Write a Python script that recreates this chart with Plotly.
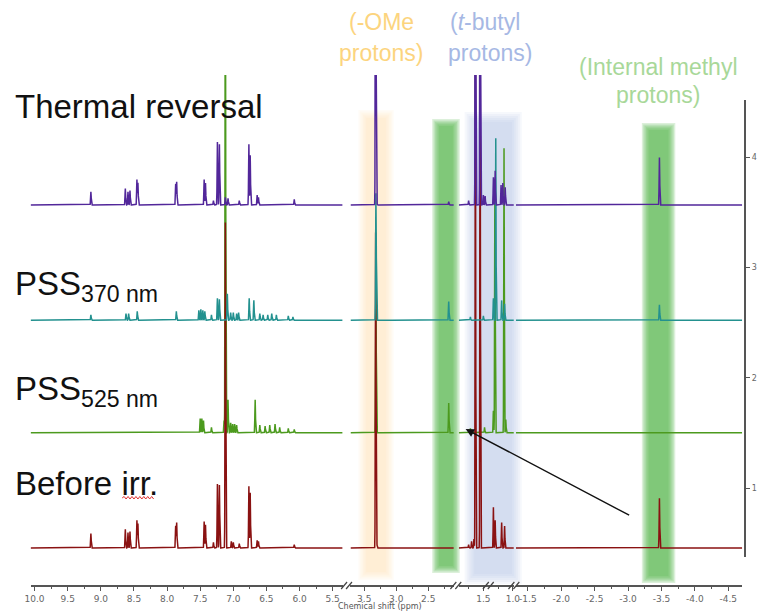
import numpy as np
import plotly.graph_objects as go

W, H = 763, 613

# ---- broken chemical-shift axis: visible windows (ppm, high -> low) ----
seg_ranges = [(10.06, 5.35), (3.715, 2.10), (1.917, 0.983), (-1.32, -4.71)]
seg_ticks = [
    [10.0, 9.5, 9.0, 8.5, 8.0, 7.5, 7.0, 6.5, 6.0, 5.5],
    [3.5, 3.0, 2.5],
    [1.5, 1.0],
    [-1.5, -2.0, -2.5, -3.0, -3.5, -4.0, -4.5],
]
stack_ticks = [1, 2, 3, 4]

# ---- peak lists (ppm, intensity in stack units) ----
before_ppm = [9.15, 8.63, 8.59, 8.56, 8.455, 8.44, 7.87, 7.855, 7.44, 7.42, 7.30,
              7.24, 7.21, 7.12, 7.03, 7.00, 6.91, 6.765, 6.745, 6.64, 6.62, 6.08,
              3.322, 3.31,
              1.75, 1.70, 1.66, 1.635, 1.555, 1.33, 1.30, 1.19, 1.14,
              -3.47]
before_height = [0.13, 0.17, 0.14, 0.15, 0.25, 0.22, 0.20, 0.23, 0.24, 0.21, 0.05,
                 0.58, 0.57, 2.95, 0.06, 0.05, 0.04, 0.56, 0.50, 0.07, 0.06, 0.03,
                 2.85, 0.30,
                 0.03, 0.06, 0.08, 5.0, 5.0, 0.37, 0.25, 0.23, 0.20,
                 0.45]

pss525_ppm = [7.50, 7.475, 7.45, 7.33, 7.14, 7.12, 7.08, 7.04, 7.01, 6.98, 6.95,
              6.67, 6.60, 6.52, 6.45, 6.37, 6.30, 6.17, 6.08,
              3.318, 3.31, 2.18,
              1.72, 1.48, 1.33, 1.305, 1.15, 1.12]
pss525_height = [0.13, 0.13, 0.11, 0.05, 0.11, 5.0, 0.30, 0.09, 0.08, 0.08, 0.07,
                 0.30, 0.07, 0.06, 0.07, 0.08, 0.05, 0.04, 0.03,
                 1.32, 0.20, 0.27,
                 0.04, 0.05, 0.20, 2.30, 2.58, 0.12]

pss370_ppm = [9.15, 8.62, 8.58, 8.45, 7.86, 7.52, 7.49, 7.46, 7.43, 7.33, 7.24, 7.21,
              7.09, 7.04, 7.00, 6.95, 6.92, 6.76, 6.69, 6.60, 6.55, 6.48, 6.42, 6.35,
              6.17, 6.10,
              3.318, 3.31, 2.18,
              1.72, 1.50, 1.33, 1.29, 1.19, 1.14,
              -3.47]
pss370_height = [0.05, 0.06, 0.06, 0.08, 0.08, 0.09, 0.10, 0.09, 0.08, 0.05, 0.20, 0.19,
                 0.24, 0.07, 0.07, 0.06, 0.07, 0.20, 0.18, 0.06, 0.05, 0.05, 0.06, 0.05,
                 0.04, 0.03,
                 1.10, 0.25, 0.17,
                 0.03, 0.04, 0.20, 1.65, 0.18, 0.15,
                 0.14]

thermal_ppm = [9.15, 8.63, 8.59, 8.56, 8.455, 8.44, 7.87, 7.855, 7.44, 7.42, 7.30,
               7.24, 7.21, 7.12, 7.08, 6.91, 6.765, 6.745, 6.64, 6.62, 6.08,
               3.322, 3.31, 2.18,
               1.75, 1.50, 1.47, 1.635, 1.555, 1.33, 1.30, 1.20, 1.17, 1.13,
               -3.47]
thermal_height = [0.12, 0.15, 0.12, 0.13, 0.23, 0.20, 0.19, 0.21, 0.23, 0.20, 0.04,
                  0.57, 0.55, 0.07, 0.06, 0.04, 0.55, 0.45, 0.09, 0.07, 0.05,
                  5.0, 0.39, 0.03,
                  0.04, 0.09, 0.08, 5.0, 5.0, 0.25, 0.31, 0.18, 0.20, 0.16,
                  0.43]

# stacking offsets of each spectrum
offset_before, offset_525, offset_370, offset_thermal = 0.456, 1.50, 2.52, 3.565

# drawing order: PSS525 underneath, thermal reversal on top
spectra = [
    (pss525_ppm, pss525_height, offset_525, "#4c9a1e"),
    (before_ppm, before_height, offset_before, "#8a1212"),
    (pss370_ppm, pss370_height, offset_370, "#23918f"),
    (thermal_ppm, thermal_height, offset_thermal, "#52279a"),
]

SIGMA = 0.0045   # line width of each resonance (ppm)
STEP = 0.001


def fx(px):
    return px / W


def fy(py):
    return 1 - py / H


seg_px = [(25, 342), (350, 455), (460, 516), (518, 748)]
x_names = ["x", "x2", "x3", "x4"]

fig = go.Figure()

for ppm, hgt, off, color in spectra:
    ppm = np.asarray(ppm)
    hgt = np.asarray(hgt)
    for k, (hi, lo) in enumerate(seg_ranges):
        grid = np.arange(hi, lo, -STEP)
        y = np.full_like(grid, off)
        sel = (ppm <= hi + 0.05) & (ppm >= lo - 0.05)
        for p, h in zip(ppm[sel], hgt[sel]):
            y += h * np.exp(-0.5 * ((grid - p) / SIGMA) ** 2)
        fig.add_trace(go.Scatter(
            x=grid, y=y, xaxis=x_names[k], yaxis="y", mode="lines",
            line=dict(color=color, width=1.5), hoverinfo="skip", showlegend=False))

# trace that carries the right-hand intensity axis
fig.add_trace(go.Scatter(x=[None], y=[None], xaxis="x4", yaxis="y2",
                         mode="lines", showlegend=False, hoverinfo="skip"))

layout = dict(
    width=W, height=H,
    margin=dict(l=0, r=0, t=0, b=0),
    paper_bgcolor="white",
    plot_bgcolor="rgba(0,0,0,0)",
    showlegend=False,
    yaxis=dict(domain=[fy(560), fy(75)], range=[0.347, 4.743], visible=False,
               fixedrange=True),
    yaxis2=dict(domain=[fy(557), fy(100)], range=[0.375, 4.517], anchor="free",
                position=fx(751), side="right", showline=True, linecolor="#555",
                linewidth=2, ticks="outside", ticklen=4, tickcolor="#555",
                tickvals=stack_ticks, ticktext=[str(t) for t in stack_ticks],
                tickfont=dict(family="DejaVu Sans", size=8, color="#666"),
                showgrid=False, zeroline=False),
)

for k, ((hi, lo), (a, b)) in enumerate(zip(seg_ranges, seg_px)):
    ticks = seg_ticks[k]
    minor = [t - 0.25 for t in ticks] + [ticks[0] + 0.25]
    minor = [m for m in minor if lo <= m <= hi]
    key = "xaxis" if k == 0 else f"xaxis{k + 1}"
    layout[key] = dict(
        domain=[fx(a), fx(b)], range=[hi, lo], anchor="free", position=fy(586),
        showline=True, linecolor="#555", linewidth=1.5,
        ticks="outside", ticklen=4, tickcolor="#555", tickwidth=1,
        tickvals=ticks, ticktext=[f"{t:.1f}" for t in ticks],
        tickfont=dict(family="DejaVu Sans", size=9, color="#666"),
        minor=dict(tickvals=minor, ticks="outside", ticklen=2, tickcolor="#555",
                   showgrid=False),
        showgrid=False, zeroline=False, fixedrange=True)

fig.update_layout(**layout)

# ---- highlighted regions with soft edges ----
shapes = []


def soft_band(x0, x1, y0, y1, rgb, alpha, spread=6, layers=6):
    for i in range(layers):
        d = spread * (1 - i / (layers - 1))
        shapes.append(dict(
            type="rect", xref="paper", yref="paper", layer="below",
            x0=fx(x0 - d), x1=fx(x1 + d), y0=fy(y1 + d), y1=fy(y0 - d),
            fillcolor=f"rgba({rgb},{alpha / layers * 1.5:.3f})", line=dict(width=0)))


soft_band(366, 386, 118, 572, "253,214,140", 0.28, spread=8)
soft_band(476, 514, 122, 574, "170,190,230", 0.42, spread=10)
soft_band(440, 454, 126, 566, "90,185,80", 0.85, spread=7)
soft_band(653, 673, 130, 576, "90,185,80", 0.85, spread=7)

# axis break marks
for bx in [346, 457, 490, 516]:
    for dx in (-2.5, 2.5):
        shapes.append(dict(type="line", xref="paper", yref="paper",
                           x0=fx(bx + dx - 3), y0=fy(589), x1=fx(bx + dx + 3), y1=fy(582),
                           line=dict(color="#444", width=1.2)))

# spell-check squiggle under "irr"
zig = "M {:.5f},{:.5f}".format(fx(118), fy(498))
for i, xx in enumerate(range(120, 152, 2)):
    yy = 496.5 if i % 2 == 0 else 499
    zig += " L {:.5f},{:.5f}".format(fx(xx), fy(yy))
shapes.append(dict(type="path", xref="paper", yref="paper", path=zig,
                   line=dict(color="#e03030", width=1)))

fig.update_layout(shapes=shapes)

# ---- text ----
ann = []
big = dict(family="Liberation Sans, Arial", size=33, color="#111")
for txt, yy in [("Thermal reversal", 107), ("PSS<sub>370 nm</sub>", 286),
                ("PSS<sub>525 nm</sub>", 391), ("Before irr.", 483)]:
    ann.append(dict(text=txt, x=fx(7), y=fy(yy), xref="paper", yref="paper",
                    xanchor="left", yanchor="middle", showarrow=False, font=big))

lab = dict(family="Liberation Sans, Arial", size=23)
for txt, xx, yy, col in [
    ("(-OMe", 381, 22, "#fcd47e"), ("protons)", 381, 53, "#fcd47e"),
    ("(<i>t</i>-butyl", 487, 22, "#a6b8e4"), ("protons)", 492, 53, "#a6b8e4"),
    ("(Internal methyl", 663, 67, "#a8d899"), ("protons)", 662, 95, "#a8d899"),
]:
    ann.append(dict(text=txt, x=fx(xx), y=fy(yy), xref="paper", yref="paper",
                    xanchor="center", yanchor="middle", showarrow=False,
                    font=dict(lab, color=col)))

ann.append(dict(text="Chemical shift (ppm)", x=fx(380), y=fy(606), xref="paper",
                yref="paper", xanchor="center", yanchor="middle", showarrow=False,
                font=dict(family="DejaVu Sans", size=8, color="#555")))

# arrow pointing at the residual signal in the PSS525 spectrum
ann.append(dict(text="", x=fx(467), y=fy(429), xref="paper", yref="paper",
                ax=632 - 467, ay=516 - 429, axref="pixel", ayref="pixel",
                showarrow=True, arrowhead=2, arrowsize=1.2, arrowwidth=1.4,
                arrowcolor="#111", standoff=0))

fig.update_layout(annotations=ann)

fig.write_html("out.html")
